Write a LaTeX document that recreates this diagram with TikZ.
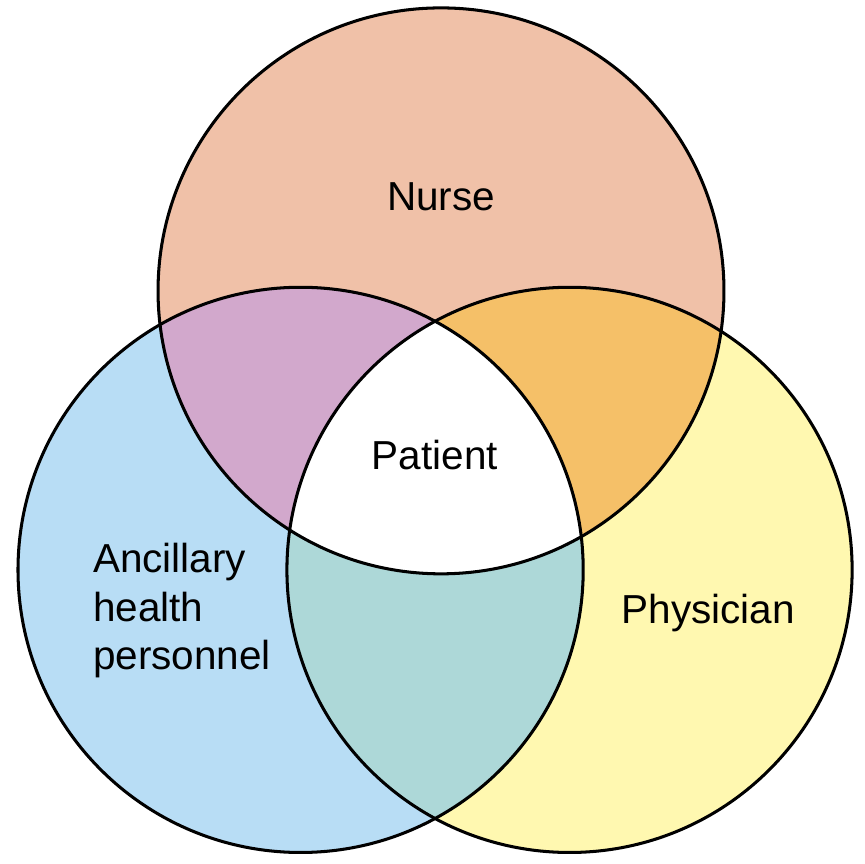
\documentclass[tikz,border=0pt]{standalone}
\usepackage{fontspec}
\setmainfont{Liberation Sans}
\usepackage{xcolor}
\usepackage{tikz}
\definecolor{saumon}{RGB}{240,193,168}
\definecolor{bleuclair}{RGB}{184,221,245}
\definecolor{jaunepale}{RGB}{255,248,176}
\definecolor{mauve}{RGB}{210,168,204}
\definecolor{orange}{RGB}{245,192,104}
\definecolor{turquoise}{RGB}{173,216,216}
\tikzset{
    cercle/.style = {draw, line width=2.4pt},
    texte/.style = {inner sep=0pt, font=\fontsize{32}{38.5}\selectfont},
    c1/.style = {fill=saumon},
    c2/.style = {fill=bleuclair},
    c3/.style = {fill=jaunepale},
    c4/.style = {fill=mauve},
    c5/.style = {fill=orange},
    c6/.style = {fill=turquoise}
}
\newcommand{\infirmier}{(12.25,15.92) circle (7.86)}
\newcommand{\auxiliaire}{(8.35,8.17) circle (7.85)}
\newcommand{\medecin}{(15.82,8.17) circle (7.85)}

\begin{document}
\begin{tikzpicture}
                \useasboundingbox (0,0) rectangle (24,24);
                \fill[c1] \infirmier;
                \fill[c2] \auxiliaire;
                \fill[c3] \medecin;
                \begin{scope}
                    \clip \infirmier;
                    \fill[c4] \auxiliaire;
                    \fill[c5] \medecin;
                \end{scope}
                \begin{scope}
                    \clip \auxiliaire;
                    \fill[c6] \medecin;
                \end{scope}
                \begin{scope}
                    \clip \infirmier;
                    \clip \auxiliaire;
                    \fill[white] \medecin;
                \end{scope}
                \draw[cercle] \infirmier;
                \draw[cercle] \auxiliaire;
                \draw[cercle] \medecin;
                \node (nurse) [texte, anchor=base] at (12.25, 18.14) {Nurse};
                \node (patient) [texte, anchor=base] at (12.08, 10.97) {Patient};
                \node (physician) [texte, anchor=base] at (19.67, 6.69) {Physician};
                \node (ancillary) [texte, align=left, anchor=base west] at (2.58, 5.39) {Ancillary\\health\\personnel};
            \end{tikzpicture}
\end{document}
